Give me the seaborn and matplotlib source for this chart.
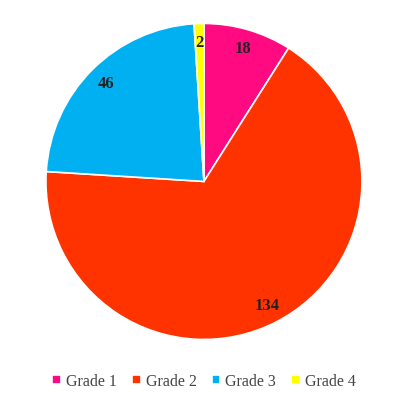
import matplotlib
matplotlib.use("Agg")
import matplotlib.pyplot as plt
import seaborn as sns

categories = ["Grade 1", "Grade 2", "Grade 3", "Grade 4"]
values = [18, 134, 46, 2]
colors = ["#FF0A80", "#FF3300", "#00B0F0", "#FFFF00"]

sns.set_theme(style="white")
plt.rcParams['font.family'] = ['Liberation Serif', 'DejaVu Serif']

fig = plt.figure(figsize=(3.96, 4.10), dpi=100)
ax = fig.add_axes([0.515 - 0.399, 0.555 - 0.3854, 0.798, 0.7708])

wedges, texts, autotexts = ax.pie(
    values, colors=colors, startangle=90, counterclock=False,
    autopct=lambda p: f"{round(p * sum(values) / 100):d}", pctdistance=0.88,
    wedgeprops=dict(edgecolor="white", linewidth=1.2),
    textprops=dict(fontsize=12, fontweight="bold", color="#222222"),
)
ax.set_aspect("equal")
ax.set_xlim(-1, 1)
ax.set_ylim(-1, 1)

fig.legend(wedges, categories, loc="center", bbox_to_anchor=(0.515, 0.068),
           ncol=4, frameon=False, handlelength=0.55, handleheight=0.55,
           handletextpad=0.3, columnspacing=0.95,
           prop=dict(size=11.5), labelcolor="#444444")

fig.savefig("out.png", dpi=100)
